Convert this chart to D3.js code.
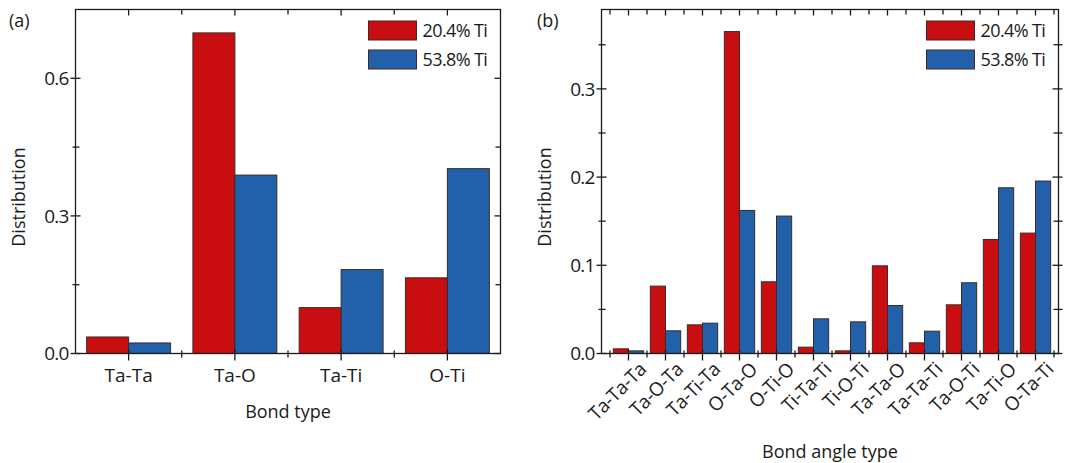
<!DOCTYPE html>
<html>
<head>
<meta charset="utf-8">
<script src="https://cdn.jsdelivr.net/npm/d3@7"></script>
<style>
  html, body { margin: 0; padding: 0; background: #fff; }
  svg { display: block; }
  text { font-family: "Open Sans", "Liberation Sans", sans-serif; fill: #1a1a1a; }
</style>
</head>
<body>
<svg id="chart" width="1065" height="463"></svg>
<script>
// Series shared by both panels
const seriesNames = ["20.4% Ti", "53.8% Ti"];
const seriesColors = ["#c80e10", "#2260aa"];

// Panel (a): bond type distribution
const bondTypes = ["Ta-Ta", "Ta-O", "Ta-Ti", "O-Ti"];
const bondLow = [0.036, 0.699, 0.100, 0.165];
const bondHigh = [0.023, 0.389, 0.183, 0.403];
const bondTicks = [0.0, 0.3, 0.6];
const bondMinorTicks = [0.15, 0.45, 0.75];

// Panel (b): bond angle type distribution
const angleTypes = ["Ta-Ta-Ta", "Ta-O-Ta", "Ta-Ti-Ta", "O-Ta-O", "O-Ti-O", "Ti-Ta-Ti",
                    "Ti-O-Ti", "Ta-Ta-O", "Ta-Ta-Ti", "Ta-O-Ti", "Ta-Ti-O", "O-Ta-Ti"];
const angleLow = [0.0053, 0.0764, 0.0325, 0.365, 0.0813, 0.0072,
                  0.0030, 0.0994, 0.0121, 0.0552, 0.1293, 0.1365];
const angleHigh = [0.0030, 0.0257, 0.0344, 0.1622, 0.1558, 0.0393,
                   0.0359, 0.0544, 0.0253, 0.0802, 0.1879, 0.1955];
const angleTicks = [0.0, 0.1, 0.2, 0.3];
const angleMinorTicks = [0.05, 0.15, 0.25, 0.35];

const svg = d3.select("#chart");

function drawPanel(cfg) {
  const g = svg.append("g");
  const { frame, bandRange, yMax } = cfg;

  const x = d3.scaleBand().domain(cfg.categories).range(bandRange).padding(0);
  const bw = x.bandwidth();
  const xs = d3.scaleBand().domain(seriesNames)
    .range([bw * cfg.barPad, bw * (1 - cfg.barPad)]).padding(0);
  const y = d3.scaleLinear().domain([0, yMax]).range([frame.bottom, frame.top]);

  const rows = cfg.categories.map((c, i) => ({
    cat: c,
    vals: [cfg.low[i], cfg.high[i]]
  }));

  // bars
  const groups = g.selectAll("g.cat").data(rows).join("g")
    .attr("class", "cat")
    .attr("transform", d => `translate(${x(d.cat)},0)`);
  groups.selectAll("rect").data(d => d.vals.map((v, k) => ({ v, k })))
    .join("rect")
    .attr("x", d => xs(seriesNames[d.k]))
    .attr("width", xs.bandwidth())
    .attr("y", d => y(d.v))
    .attr("height", d => y(0) - y(d.v))
    .attr("fill", d => seriesColors[d.k])
    .attr("stroke", "#3a2a2a")
    .attr("stroke-width", 1);

  // frame
  g.append("rect")
    .attr("x", frame.left).attr("y", frame.top)
    .attr("width", frame.right - frame.left)
    .attr("height", frame.bottom - frame.top)
    .attr("fill", "none").attr("stroke", "#1a1a1a").attr("stroke-width", 1.3);

  const tickStroke = sel => sel.attr("stroke", "#1a1a1a").attr("stroke-width", 1.3);

  // x ticks: major at category centres, minor at band boundaries
  const centers = cfg.categories.map(c => x(c) + bw / 2);
  let bounds = cfg.categories.map(c => x(c)).concat([bandRange[1]]);
  bounds = bounds.filter(b => b > frame.left + 1 && b < frame.right - 1);

  centers.forEach(cx => {
    g.append("line").attr("x1", cx).attr("x2", cx)
      .attr("y1", frame.bottom - 4).attr("y2", frame.bottom + 7).call(tickStroke);
    g.append("line").attr("x1", cx).attr("x2", cx)
      .attr("y1", frame.top).attr("y2", frame.top + 6).call(tickStroke);
  });
  bounds.forEach(bx => {
    g.append("line").attr("x1", bx).attr("x2", bx)
      .attr("y1", frame.bottom - 3).attr("y2", frame.bottom + 4).call(tickStroke);
    g.append("line").attr("x1", bx).attr("x2", bx)
      .attr("y1", frame.top).attr("y2", frame.top + 5).call(tickStroke);
  });

  // y ticks
  cfg.yTicks.forEach(t => {
    g.append("line").attr("x1", frame.left - 5).attr("x2", frame.left + 5)
      .attr("y1", y(t)).attr("y2", y(t)).call(tickStroke);
    g.append("line").attr("x1", frame.right - 6).attr("x2", frame.right + cfg.rightOut)
      .attr("y1", y(t)).attr("y2", y(t)).call(tickStroke);
    g.append("text").attr("x", frame.left - 7).attr("y", y(t))
      .attr("dy", "0.36em").attr("text-anchor", "end")
      .attr("font-size", 19).attr("letter-spacing", -0.8)
      .text(d3.format(".1f")(t));
  });
  cfg.yMinor.filter(t => t < yMax).forEach(t => {
    g.append("line").attr("x1", frame.left - 3).attr("x2", frame.left + 4)
      .attr("y1", y(t)).attr("y2", y(t)).call(tickStroke);
    g.append("line").attr("x1", frame.right - 5).attr("x2", frame.right + cfg.rightOut)
      .attr("y1", y(t)).attr("y2", y(t)).call(tickStroke);
  });

  // category labels
  if (cfg.rotate) {
    centers.forEach((cx, i) => {
      g.append("text")
        .attr("transform", `translate(${cx + 19},${frame.bottom + 17}) rotate(-45)`)
        .attr("text-anchor", "end").attr("font-size", 19).attr("letter-spacing", -0.4)
        .text(cfg.categories[i]);
    });
  } else {
    centers.forEach((cx, i) => {
      g.append("text").attr("x", cx).attr("y", frame.bottom + 28)
        .attr("text-anchor", "middle").attr("font-size", 19)
        .text(cfg.categories[i]);
    });
  }

  // axis titles
  g.append("text")
    .attr("x", (frame.left + frame.right) / 2).attr("y", cfg.xTitleY)
    .attr("text-anchor", "middle").attr("font-size", 18)
    .text(cfg.xTitle);
  g.append("text")
    .attr("transform", `translate(${cfg.yTitleX},197) rotate(-90)`)
    .attr("text-anchor", "middle").attr("font-size", 18)
    .text("Distribution");

  // panel tag
  g.append("text").attr("x", cfg.tagX).attr("y", 27)
    .attr("font-size", 18).text(cfg.tag);

  // legend
  const lx = frame.right - 132;
  seriesNames.forEach((name, k) => {
    const ly = 21 + k * 29;
    g.append("rect").attr("x", lx).attr("y", ly).attr("width", 48).attr("height", 19)
      .attr("fill", seriesColors[k]).attr("stroke", "#3a2a2a").attr("stroke-width", 1);
    g.append("text").attr("x", lx + 54).attr("y", ly + 10).attr("dy", "0.36em")
      .attr("font-size", 18).attr("letter-spacing", -0.6).text(name);
  });
}

drawPanel({
  categories: bondTypes, low: bondLow, high: bondHigh,
  frame: { left: 75.5, right: 500.5, top: 9.5, bottom: 353.5 },
  bandRange: [75.5, 500.5], barPad: 0.105, yMax: 0.75,
  yTicks: bondTicks, yMinor: bondMinorTicks, rightOut: 0,
  rotate: false, xTitle: "Bond type", xTitleY: 418,
  yTitleX: 25, tag: "(a)", tagX: 9
});

drawPanel({
  categories: angleTypes, low: angleLow, high: angleHigh,
  frame: { left: 601.5, right: 1058.5, top: 9.5, bottom: 353.5 },
  bandRange: [610, 1054], barPad: 0.09, yMax: 0.39,
  yTicks: angleTicks, yMinor: angleMinorTicks, rightOut: 4,
  rotate: true, xTitle: "Bond angle type", xTitleY: 458,
  yTitleX: 551, tag: "(b)", tagX: 537
});
</script>
</body>
</html>
